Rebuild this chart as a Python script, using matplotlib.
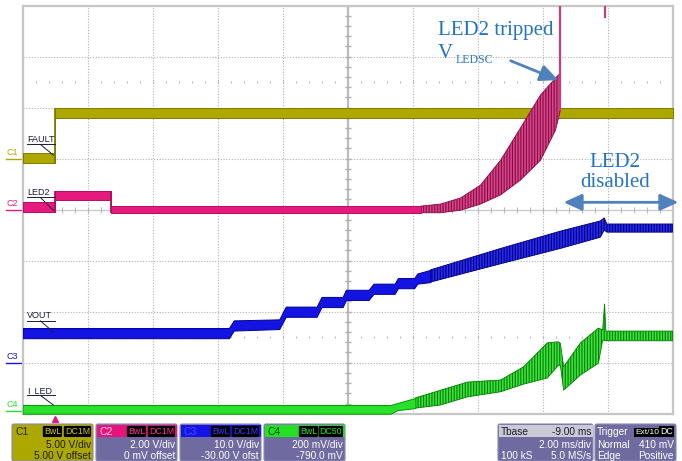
import numpy as np
import matplotlib.pyplot as plt
from matplotlib.patches import FancyBboxPatch, Rectangle

plt.rcParams['font.family'] = ['Liberation Sans', 'DejaVu Sans']
plt.rcParams['hatch.linewidth'] = 0.8

# ---- scope settings (time in ms, traces in screen divisions) ----
t_start, t_stop = -1.0, 19.0
n_div_y = 4

ch_names = ['C1', 'C2', 'C3', 'C4']
ch_scale = [5.0, 2.0, 10.0, 0.2]          # V/div
ch_offset = [5.0, 0.0, -30.0, -0.79]      # V
ch_vdiv_txt = ['5.00 V/div', '2.00 V/div', '10.0 V/div', '200 mV/div']
ch_offs_txt = ['5.00 V offset', '0 mV offset', '-30.00 V ofst', '-790.0 mV']
ch_coupling = ['DC1M', 'DC1M', 'DC1M', 'DC50']
trace_names = ['FAULT', 'LED2', 'VOUT', 'I_LED']

# FAULT (C1)
fault_t = [-1, 0, 0, 19]
fault_lo = [0.92, 0.92, 1.80, 1.80]
fault_hi = [1.11, 1.11, 1.99, 1.99]

# LED2 (C2)
led2_t = [-1, 0, 0, 1.73, 1.73, 11.25, 11.86, 12.48, 13.09, 13.71, 14.32, 14.94, 15.40, 15.55]
led2_lo = [-0.05, -0.05, 0.19, 0.19, -0.06, -0.06, -0.06, -0.01, 0.11, 0.29, 0.58, 0.97, 1.56, 1.95]
led2_hi = [0.15, 0.15, 0.37, 0.37, 0.07, 0.07, 0.11, 0.23, 0.48, 0.97, 1.60, 2.25, 2.58, 2.68]
led2_ring_start = 11.25
led2_spike_t = [15.55, 16.91]
led2_spike_lo = [1.95, 3.78]

# VOUT (C3)
vout_t = [-1, 5.35, 5.5, 6.9, 7.1, 8.05, 8.2, 8.85, 8.95, 9.65, 9.8, 10.45, 10.55,
          11.05, 11.15, 11.55, 13.71, 15.55, 16.78, 16.9, 16.98, 19]
vout_lo = [-2.52, -2.52, -2.37, -2.34, -2.10, -2.10, -1.91, -1.91, -1.77, -1.77, -1.65, -1.65,
           -1.54, -1.54, -1.45, -1.42, -1.06, -0.76, -0.54, -0.40, -0.44, -0.44]
vout_hi = [-2.32, -2.32, -2.17, -2.15, -1.90, -1.90, -1.71, -1.71, -1.57, -1.57, -1.45, -1.45,
           -1.34, -1.34, -1.25, -1.18, -0.76, -0.42, -0.22, -0.16, -0.28, -0.28]
vout_ring_start = 11.55

# I_LED (C4)
iled_t = [-1, 10.32, 10.54, 11.09, 11.86, 12.69, 13.71, 14.42, 15.15, 15.49, 15.55,
          15.65, 16.17, 16.72, 16.85, 16.91, 16.95, 19]
iled_lo = [-4.0, -4.0, -3.93, -3.89, -3.83, -3.67, -3.57, -3.42, -3.30, -3.05, -3.05,
           -3.54, -3.24, -3.01, -2.56, -2.56, -2.57, -2.57]
iled_hi = [-3.83, -3.83, -3.79, -3.69, -3.54, -3.38, -3.34, -3.08, -2.61, -2.59, -2.62,
           -3.08, -2.61, -2.32, -2.36, -1.85, -2.38, -2.38]
iled_ring_start = 11.09

W, H = 682, 461
fig = plt.figure(figsize=(W / 100, H / 100), dpi=100)
fig.patch.set_facecolor('white')

# overlay in pixels for the info boxes
ov = fig.add_axes([0, 0, 1, 1])
ov.set_xlim(0, W)
ov.set_ylim(H, 0)
ov.axis('off')

ax = fig.add_axes([22.5 / W, 1 - 413.7 / H, 650 / W, 408 / H])
ax.set_xlim(t_start, t_stop)
ax.set_ylim(-n_div_y, n_div_y)
ax.set_xticks([])
ax.set_yticks([])
for s in ax.spines.values():
    s.set_color('#c6c6c6')
    s.set_linewidth(1.6)

# graticule
tc = (t_start + t_stop) / 2
for t in np.arange(t_start + 2, t_stop, 2):
    if abs(t - tc) > 1e-6:
        ax.axvline(t, color='#b0b0b0', lw=0.8, ls=(0, (1, 1.5)), zorder=1)
for d in range(-3, 4):
    if d != 0:
        ax.axhline(d, color='#b0b0b0', lw=0.8, ls=(0, (1, 1.5)), zorder=1)
ax.axvline(tc, color='#bcbcbc', lw=1.6, zorder=1)
ax.axhline(0, color='#c8c8c8', lw=0.9, zorder=1)
ax.plot(np.full(41, tc), np.arange(-4, 4.01, 0.2), ls='none', marker='_', ms=5,
        mew=1, color='#b0b0b0', zorder=1)
ax.plot(np.arange(t_start, t_stop + 0.01, 0.4), np.zeros(51), ls='none', marker='|',
        ms=4, mew=0.8, color='#b8b8b8', zorder=1)
for d in (2.5, -2.5):
    ax.plot(np.arange(t_start, t_stop + 0.01, 0.4), np.full(51, d), ls='none', marker='|',
            ms=2, mew=0.8, color='#b8b8b8', zorder=1)


def trace(t, lo, hi, face, edge, ring_start=None, ring_face=None, ring_edge=None):
    t, lo, hi = np.asarray(t, float), np.asarray(lo, float), np.asarray(hi, float)
    if ring_start is None:
        flat = np.ones(len(t), bool)
    else:
        flat = t <= ring_start
        ring = t >= ring_start
        ax.fill_between(t[ring], lo[ring], hi[ring], facecolor=ring_face, edgecolor=ring_edge,
                        hatch='||||||', lw=0.6, zorder=3)
    ax.fill_between(t[flat], lo[flat], hi[flat], facecolor=face, edgecolor=edge, lw=0.7, zorder=3)
    for i in np.where(np.diff(t) == 0)[0]:
        ax.vlines(t[i], min(lo[i], lo[i + 1]), max(hi[i], hi[i + 1]), color=edge, lw=1.3, zorder=3)


olive, olive_d = '#aca800', '#7e7b00'
mag, mag_d = '#e6197f', '#b0105c'
blue, blue_d = '#1414e2', '#00009a'
green, green_d = '#2ae02a', '#009a00'

trace(fault_t, fault_lo, fault_hi, olive, olive_d)
trace(led2_t, led2_lo, led2_hi, mag, mag_d, led2_ring_start, '#d2468a', '#8e0a45')
for t0, lo0 in zip(led2_spike_t, led2_spike_lo):
    ax.plot([t0, t0], [lo0, 4.3], color='#c0407e', lw=1.6, zorder=3)
trace(vout_t, vout_lo, vout_hi, blue, blue_d, vout_ring_start, '#2a2af0', '#00007a')
trace(iled_t, iled_lo, iled_hi, green, green_d, iled_ring_start, '#40e040', '#008000')

# ground markers at left
ch_cols = [olive, mag, blue, green]
for name, sc, off, col in zip(ch_names, ch_scale, ch_offset, ch_cols):
    d0 = off / sc
    ax.plot([-1.52, -1.02], [d0, d0], color=col, lw=1, clip_on=False)
    ax.text(-1.31, d0 + 0.04, name, color=col, fontsize=6.5, ha='center', va='bottom',
            clip_on=False)

# trace labels with leader lines
lab_pos = [(1.33, 1.07), (0.29, -0.01), (-2.13, -2.40), (-3.59, -3.83)]
for name, (yb, ye) in zip(trace_names, lab_pos):
    ax.text(-0.85, yb, name, fontsize=6.5, color='#1a1a3a', va='baseline', zorder=5)
    ax.plot([-0.85, 0.0], [yb - 0.05, yb - 0.05], color='#1a1a3a', lw=0.7, zorder=5)
    ax.plot([-0.45, -0.05], [yb - 0.05, ye], color='#1a1a3a', lw=0.7, zorder=5)

# trigger marker
ax.plot([0], [-0.012], marker='^', ms=5, color=mag, transform=ax.get_xaxis_transform(),
        clip_on=False)

# annotations
ann_col = '#2373c4'
arr_col = '#4f81bd'
serif = ['Liberation Serif', 'DejaVu Serif']
ax.text(11.77, 3.43, 'LED2 tripped', family=serif, fontsize=15, color=ann_col,
        va='baseline', zorder=6)
ax.text(11.77, 2.97, 'V', family=serif, fontsize=15, color=ann_col, va='baseline', zorder=6)
ax.text(12.32, 2.88, 'LEDSC', family=serif, fontsize=8.5, color=ann_col, va='baseline', zorder=6)
ax.annotate('', xy=(15.49, 2.54), xytext=(14.02, 2.92),
            arrowprops=dict(arrowstyle='-|>,head_length=1.1,head_width=0.5', mutation_scale=10,
                            color=arr_col, lw=2, shrinkA=0, shrinkB=0), zorder=6)
ax.text(17.22, 0.84, 'LED2', family=serif, fontsize=15, color=ann_col, ha='center',
        va='baseline', zorder=6)
ax.text(17.22, 0.445, 'disabled', family=serif, fontsize=15, color=ann_col, ha='center',
        va='baseline', zorder=6)
ax.annotate('', xy=(19.18, 0.145), xytext=(15.65, 0.145), annotation_clip=False,
            arrowprops=dict(arrowstyle='<|-|>,head_length=1.1,head_width=0.5', mutation_scale=10,
                            color=arr_col, lw=2, shrinkA=0, shrinkB=0, clip_on=False), zorder=6)

# ---- info boxes (pixel layout) ----
body = '#6f6ba1'
heads = [olive, '#e8147c', '#1414e6', '#22e022']
name_cols = ['#262600', '#ffd0ea', '#4a4aff', '#0a4a0a']
badge_cols = ['#d0c800', '#ff3399', '#3a3aff', '#22e022']
dc_w = {'DC1M': 29, 'DC50': 25}
row_kw = dict(fontsize=7.3, va='baseline')
for i in range(4):
    x0 = 12 + 84 * i
    bc = olive if i == 0 else body
    tc_ = '#1c1c00' if i == 0 else 'white'
    ov.add_patch(FancyBboxPatch((x0, 424), 81, 37, boxstyle='round,pad=0,rounding_size=2',
                                fc=bc, ec='#8a88b8', lw=0.8))
    ov.add_patch(Rectangle((x0 + 0.5, 424.5), 80, 12, fc=heads[i], ec='none'))
    ov.text(x0 + 3, 434.5, ch_names[i], fontsize=7.5, color=name_cols[i], va='baseline')
    bb = dict(boxstyle='round,pad=0.12,rounding_size=0.15', fc='black', ec='none')
    ov.text(x0 + 78, 434, ch_coupling[i], fontsize=6.3, color=badge_cols[i], ha='right',
            va='baseline', bbox=bb)
    ov.text(x0 + 78 - dc_w[ch_coupling[i]], 434, 'BwL', fontsize=6.3, color=badge_cols[i],
            ha='right', va='baseline', bbox=bb)
    ov.text(x0 + 79, 447.5, ch_vdiv_txt[i], color=tc_, ha='right', **row_kw)
    ov.text(x0 + 79, 459, ch_offs_txt[i], color=tc_, ha='right', **row_kw)

# timebase
x0 = 498
ov.add_patch(FancyBboxPatch((x0, 424), 95, 37, boxstyle='round,pad=0,rounding_size=2',
                            fc=body, ec='#8a88b8', lw=0.8))
ov.add_patch(Rectangle((x0 + 0.5, 424.5), 94, 12, fc='#cacad6', ec='none'))
ov.text(x0 + 3, 434.5, 'Tbase', color='#1a1a2a', **row_kw)
ov.text(x0 + 93, 434.5, '-9.00 ms', color='#1a1a2a', ha='right', **row_kw)
ov.text(x0 + 93, 447.5, '2.00 ms/div', color='white', ha='right', **row_kw)
ov.text(x0 + 3, 459, '100 kS', color='white', **row_kw)
ov.text(x0 + 93, 459, '5.0 MS/s', color='white', ha='right', **row_kw)

# trigger
x0 = 595
ov.add_patch(FancyBboxPatch((x0, 424), 81, 37, boxstyle='round,pad=0,rounding_size=2',
                            fc=body, ec='#8a88b8', lw=0.8))
ov.text(x0 + 2, 434.5, 'Trigger', color='white', **row_kw)
bb = dict(boxstyle='square,pad=0.1', fc='black', ec='none')
ov.text(x0 + 78, 434, 'DC', fontsize=6.3, color='white', ha='right', va='baseline', bbox=bb)
ov.text(x0 + 64, 434, 'Ext/10', fontsize=6.0, color='white', ha='right', va='baseline', bbox=bb)
ov.text(x0 + 2, 447.5, 'Normal', color='white', **row_kw)
ov.text(x0 + 79, 447.5, '410 mV', color='white', ha='right', **row_kw)
ov.text(x0 + 2, 459, 'Edge', color='white', **row_kw)
ov.text(x0 + 79, 459, 'Positive', color='white', ha='right', **row_kw)

fig.savefig('out.png', dpi=100)
